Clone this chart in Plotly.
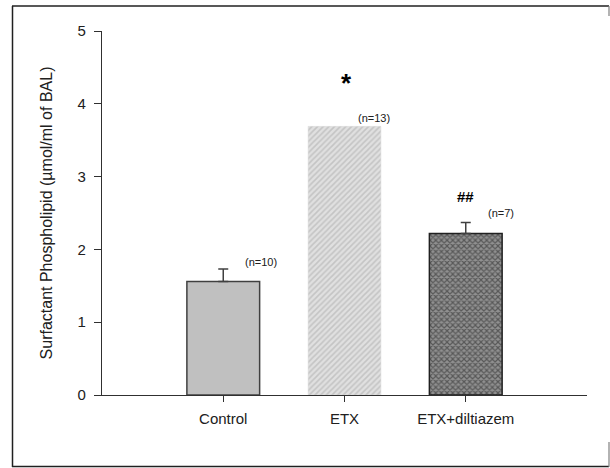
import plotly.graph_objects as go

categories = ["Control", "ETX", "ETX+diltiazem"]
means = [1.56, 3.69, 2.22]
sem = [0.17, 0.0, 0.15]
n_labels = ["(n=10)", "(n=13)", "(n=7)"]
y_ticks = [0, 1, 2, 3, 4, 5]

xs = [0, 1, 2]

FONT = "Liberation Sans, Arial"

fig = go.Figure()

# Control
fig.add_trace(go.Bar(
    x=[xs[0]], y=[means[0]], width=0.6,
    marker=dict(color="#c0c0c0", line=dict(color="#404040", width=1.5)),
    error_y=dict(type="data", array=[sem[0]], arrayminus=[0], symmetric=False,
                 color="#404040", thickness=1.5, width=5),
    showlegend=False,
))
# ETX
fig.add_trace(go.Bar(
    x=[xs[1]], y=[means[1]], width=0.6,
    marker=dict(color="#e0e0e0",
                pattern=dict(shape="/", fgcolor="#a8a8a8", bgcolor="#e0e0e0", size=4, solidity=0.4),
                line=dict(color="#d8d8d8", width=0.5)),
    showlegend=False,
))
# ETX+diltiazem
fig.add_trace(go.Bar(
    x=[xs[2]], y=[means[2]], width=0.6,
    marker=dict(color="#808080",
                pattern=dict(shape="x", fgcolor="#202020", bgcolor="#909090", size=4, solidity=0.5),
                line=dict(color="#202020", width=1.5)),
    error_y=dict(type="data", array=[sem[2]], arrayminus=[0], symmetric=False,
                 color="#404040", thickness=1.5, width=5),
    showlegend=False,
))

annotations = []
n_offsets = [0.31, 0.24, 0.29]
n_y = [1.83, 3.8, 2.5]
for i in range(3):
    annotations.append(dict(x=xs[i] + n_offsets[i], y=n_y[i], text=n_labels[i], showarrow=False,
                            font=dict(family=FONT, size=11, color="#202020")))
annotations.append(dict(x=xs[1] + 0.02, y=4.28, text="<b>*</b>", showarrow=False,
                        font=dict(family=FONT, size=26, color="black")))
annotations.append(dict(x=xs[2], y=2.73, text="<b>##</b>", showarrow=False,
                        font=dict(family=FONT, size=15, color="black")))

fig.update_layout(
    width=610, height=468,
    margin=dict(l=102, r=23, t=31, b=73),
    paper_bgcolor="white", plot_bgcolor="white",
    font=dict(family=FONT, color="#202020"),
    annotations=annotations,
    xaxis=dict(
        range=[-1.0, 3.0], tickmode="array", tickvals=xs, ticktext=categories,
        showgrid=False, zeroline=False, showline=True, linecolor="#303030", linewidth=1.2,
        ticks="outside", ticklen=6, tickcolor="#303030", ticklabelstandoff=4,
        tickfont=dict(size=15, color="#202020"),
    ),
    yaxis=dict(
        range=[0, 5], tickvals=y_ticks,
        showgrid=False, zeroline=False, showline=True, linecolor="#303030", linewidth=1.2,
        ticks="outside", ticklen=7, tickcolor="#303030", ticklabelstandoff=5,
        tickfont=dict(size=15, color="#202020"),
        title=dict(text="Surfactant Phospholipid (µmol/ml of BAL)", font=dict(size=16, color="#202020"), standoff=20),
    ),
)

# outer frame (decorative, paper coordinates)
def px(x):
    return (x - 102) / 485.0

def py(y):
    return (395 - y) / 364.0

frame_col = "#202020"
fig.add_shape(type="line", xref="paper", yref="paper", x0=px(12), x1=px(609), y0=py(6), y1=py(6),
              line=dict(color=frame_col, width=1.5))
fig.add_shape(type="line", xref="paper", yref="paper", x0=px(12), x1=px(609), y0=py(466.5), y1=py(466.5),
              line=dict(color=frame_col, width=1.5))
fig.add_shape(type="line", xref="paper", yref="paper", x0=px(12.5), x1=px(12.5), y0=py(6), y1=py(467),
              line=dict(color=frame_col, width=1.5))
fig.add_shape(type="line", xref="paper", yref="paper", x0=px(609), x1=px(609), y0=py(6), y1=py(16),
              line=dict(color="#808080", width=1.2))
fig.add_shape(type="line", xref="paper", yref="paper", x0=px(609), x1=px(609), y0=py(442), y1=py(467),
              line=dict(color="#808080", width=1.2))

fig.write_html("out.html")
